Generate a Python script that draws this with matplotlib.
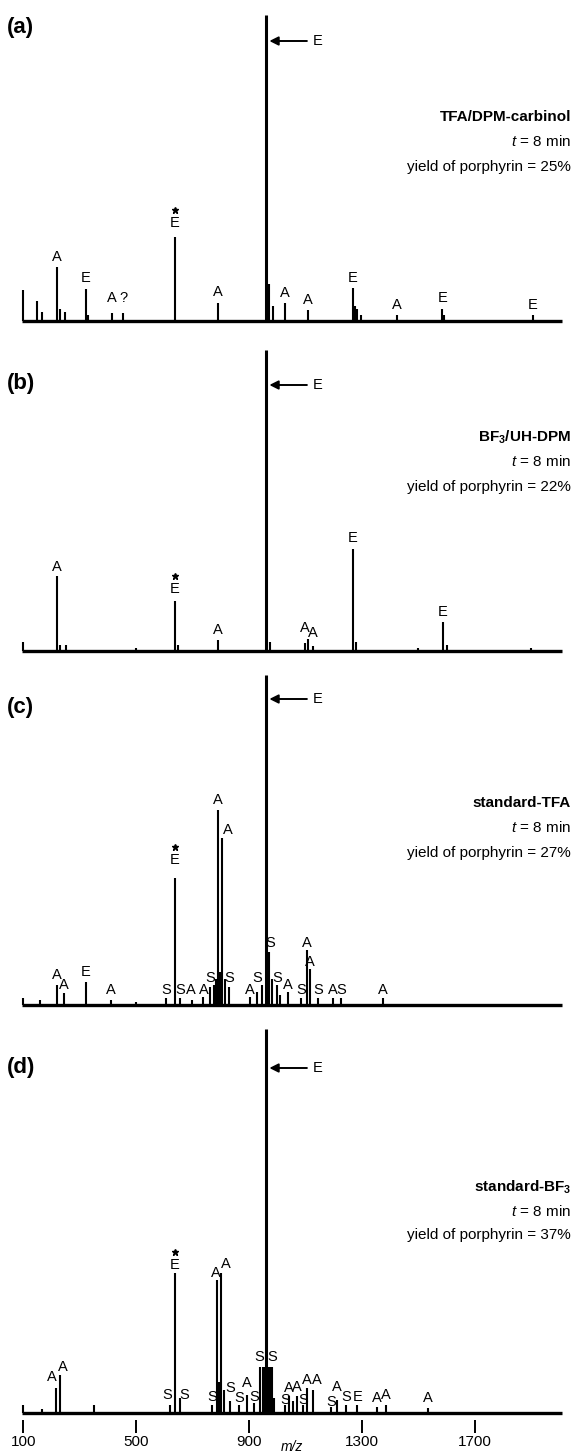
import matplotlib
matplotlib.use('Agg')
import matplotlib.pyplot as plt

plt.rcParams['font.family'] = ['Liberation Sans', 'DejaVu Sans']
plt.rcParams['mathtext.fontset'] = 'custom'
plt.rcParams['mathtext.rm'] = 'Liberation Sans'
plt.rcParams['mathtext.it'] = 'Liberation Sans:italic'
plt.rcParams['mathtext.bf'] = 'Liberation Sans:bold'

# ---------------- data ----------------
main_peak_mz = 960

# panel (a) TFA/DPM-carbinol
a_mz = [100, 149, 165, 220, 232, 248, 322, 330, 415, 454, 638, 790, 960, 972, 985,
        1027, 1109, 1268, 1275, 1283, 1295, 1424, 1584, 1592, 1906]
a_int = [10, 6.5, 3, 17.6, 4, 3, 10.5, 2, 2.6, 2.6, 27.5, 6, 100, 12, 5,
         6, 3.6, 10.8, 5, 4, 2, 2, 4, 2, 2]
a_lab_mz = [220, 322, 415, 454, 638, 790, 1027, 1109, 1268, 1424, 1584, 1906]
a_lab_y = [20.9, 14.0, 7.5, 7.5, 32.0, 9.5, 9.2, 6.9, 14.0, 5.2, 7.5, 5.2]
a_lab_txt = ['A', 'E', 'A', '?', 'E*', 'A', 'A', 'A', 'E', 'A', 'E', 'E']

# panel (b) BF3/UH-DPM
b_mz = [100, 220, 232, 250, 500, 638, 650, 790, 960, 975, 1098, 1110, 1127,
        1268, 1280, 1500, 1587, 1600, 1900]
b_int = [3, 25, 2, 2, 1, 16.6, 2, 3.7, 100, 3, 2.7, 4, 1.7,
         34, 3, 1, 9.6, 2, 1]
b_lab_mz = [220, 638, 790, 1098, 1127, 1268, 1587]
b_lab_y = [27.9, 20.6, 7.0, 7.6, 6.0, 37.5, 13.0]
b_lab_txt = ['A', 'E*', 'A', 'A', 'A', 'E', 'E']

# panel (c) standard-TFA
c_mz = [100, 160, 220, 245, 322, 411, 500, 606, 638, 655, 698, 737, 762, 775,
        783, 790, 797, 805, 815, 829, 903, 928, 945, 960, 971, 980, 999, 1010,
        1038, 1084, 1105, 1116, 1144, 1197, 1226, 1374]
c_int = [2, 1.5, 6, 3.6, 7, 1.5, 1, 2, 38.5, 2, 1.5, 2.5, 5.5, 6,
         8, 59, 10, 50.6, 8, 5.5, 2.5, 4, 6, 100, 16, 8, 6, 3,
         4, 2, 16.7, 11, 2, 2, 2, 2]
c_lab_mz = [220, 245, 322, 411, 606, 655, 695, 740, 762, 790, 826, 829, 903,
            928, 975, 999, 1038, 1084, 1105, 1116, 1144, 1197, 1226, 1374, 638]
c_lab_y = [9.1, 6.1, 10.0, 4.5, 4.5, 4.5, 4.5, 4.5, 8.2, 62.1, 53.0, 8.2, 4.5,
           8.2, 18.8, 8.2, 6.0, 4.5, 18.8, 13.0, 4.5, 4.5, 4.5, 4.5, 43.9]
c_lab_txt = ['A', 'A', 'E', 'A', 'S', 'S', 'A', 'A', 'S', 'A', 'A', 'S', 'A',
             'S', 'S', 'S', 'A', 'S', 'A', 'A', 'S', 'A', 'S', 'A', 'E*']

# panel (d) standard-BF3
d_mz = [100, 167, 216, 230, 351, 620, 638, 655, 769, 787, 795, 801, 812, 833,
        865, 893, 918, 940, 948, 955, 960, 968, 975, 983, 990, 1028, 1042, 1056,
        1070, 1091, 1105, 1125, 1191, 1212, 1244, 1283, 1354, 1386, 1534]
d_int = [2, 1, 6.5, 10, 2, 2, 36.5, 4, 2, 34.6, 8, 36.5, 6, 3,
         2, 4.7, 2.5, 12, 12, 12, 100, 12, 12, 12, 4, 2, 4.5, 3,
         4.5, 2, 6.5, 6, 1.5, 3.4, 2, 2, 1.5, 2, 1.3]
d_lab_mz = [202, 241, 610, 670, 638, 783, 818, 769, 833, 865, 893, 918, 936,
            982, 1028, 1042, 1070, 1091, 1105, 1141, 1191, 1212, 1244, 1283,
            1354, 1386, 1534]
d_lab_y = [9.4, 12.0, 4.7, 4.7, 38.5, 36.5, 38.8, 4.2, 6.5, 3.9, 7.8, 4.2, 14.6,
           14.6, 3.4, 6.5, 6.8, 3.4, 8.6, 8.6, 2.9, 6.8, 4.2, 4.2,
           3.9, 4.7, 3.9]
d_lab_txt = ['A', 'A', 'S', 'S', 'E*', 'A', 'A', 'S', 'S', 'S', 'A', 'S', 'S',
             'S', 'S', 'A', 'A', 'S', 'A', 'A', 'S', 'A', 'S', 'E',
             'A', 'A', 'A']

panel_letters = ['(a)', '(b)', '(c)', '(d)']
panel_names = ['TFA/DPM-carbinol', r'BF$_\mathbf{3}$/UH-DPM', 'standard-TFA',
               r'standard-BF$_\mathbf{3}$']
yields = [25, 22, 27, 37]
xticks = [100, 500, 900, 1300, 1700]

# ---------------- layout (pixels) ----------------
W, H = 573, 1456
DPI = 100
fig = plt.figure(figsize=(W / DPI, H / DPI), dpi=DPI)
XMIN, XMAX = 95, 2010
LEFT_PX, RIGHT_PX = 21.8, 562.4

geom = [  # baseline px, top px, label y, arrow y, text lines y
    dict(base=321, top=15, lab=28, arrow=41, txt=(117, 142, 167)),
    dict(base=651, top=350, lab=383, arrow=385, txt=(437, 462, 487)),
    dict(base=1005, top=675, lab=707, arrow=699, txt=(803, 828, 853)),
    dict(base=1413, top=1029, lab=1068, arrow=1068, txt=(1187, 1211, 1235)),
]

datasets = [
    (a_mz, a_int, a_lab_mz, a_lab_y, a_lab_txt),
    (b_mz, b_int, b_lab_mz, b_lab_y, b_lab_txt),
    (c_mz, c_int, c_lab_mz, c_lab_y, c_lab_txt),
    (d_mz, d_int, d_lab_mz, d_lab_y, d_lab_txt),
]

FS_LAB = 10.5
for i, (g, ds) in enumerate(zip(geom, datasets)):
    mz, inten, lmz, ly, ltxt = ds
    hpx = g['base'] - g['top']
    last = (i == 3)
    bottom_px = g['base'] + (7 if last else 0)
    ax = fig.add_axes([LEFT_PX / W, 1 - bottom_px / H,
                       (RIGHT_PX - LEFT_PX) / W, (bottom_px - g['top']) / H])
    ymin = -(bottom_px - g['base']) / hpx * 100
    ax.set_xlim(XMIN, XMAX)
    ax.set_ylim(ymin, 100)
    for s in ax.spines.values():
        s.set_visible(False)
    ax.set_yticks([])
    # baseline
    ax.plot([XMIN, XMAX], [0, 0], color='black', lw=2.4, clip_on=False,
            solid_capstyle='butt')
    # peaks
    lws = [2.2 if m == main_peak_mz else 1.5 for m in mz]
    ax.vlines(mz, 0, inten, colors='black', linewidths=lws, clip_on=False)
    # labels
    star_off = 13 / hpx * 100
    for m, y, t in zip(lmz, ly, ltxt):
        if t == 'E*':
            ax.text(m, y, 'E', ha='center', va='center', fontsize=FS_LAB)
            ax.plot([m], [y + star_off], marker='*', color='black',
                    markersize=5, clip_on=False)
        else:
            ax.text(m, y, t, ha='center', va='center', fontsize=FS_LAB)
    # arrow to main peak
    ya = (g['base'] - g['arrow']) / hpx * 100
    ax.annotate('', xy=(972, ya), xytext=(1105, ya),
                arrowprops=dict(arrowstyle='-|>', color='black', lw=1.4,
                                mutation_scale=13, shrinkA=0, shrinkB=0))
    ax.text(1144, ya, 'E', ha='center', va='center', fontsize=FS_LAB)
    # ticks
    if last:
        ax.set_xticks(xticks)
        ax.set_xticklabels([str(t) for t in xticks], fontsize=11)
        ax.tick_params(axis='x', direction='out', length=9, width=1.4, pad=1.5)
    else:
        ax.set_xticks([])
    # panel letter
    fig.text(7 / W, 1 - g['lab'] / H, panel_letters[i], fontsize=16,
             fontweight='bold', ha='left', va='center')
    # condition text
    t1, t2, t3 = g['txt']
    fig.text(571 / W, 1 - t1 / H, panel_names[i], fontsize=11, fontweight='bold',
             ha='right', va='center')
    fig.text(571 / W, 1 - t2 / H, r'$\it{t}$ = 8 min', fontsize=11,
             ha='right', va='center')
    fig.text(571 / W, 1 - t3 / H, 'yield of porphyrin = %d%%' % yields[i],
             fontsize=11, ha='right', va='center')

fig.text((LEFT_PX + (1052 - XMIN) / (XMAX - XMIN) * (RIGHT_PX - LEFT_PX)) / W,
         1 - 1447 / H, 'm/z', style='italic', fontsize=10, ha='center', va='center')

fig.savefig('out.png', dpi=DPI)
